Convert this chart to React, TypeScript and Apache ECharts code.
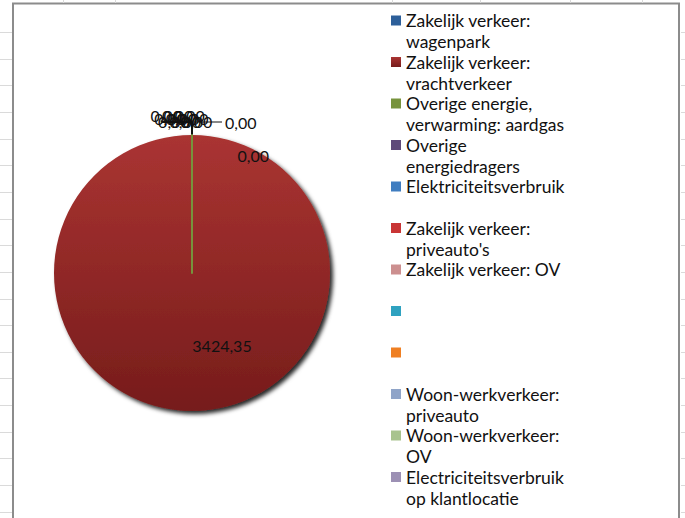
import React, { useEffect, useRef } from "react";
import * as echarts from "echarts";

const categories = [
  "Zakelijk verkeer: wagenpark",
  "Zakelijk verkeer: vrachtverkeer",
  "Overige energie, verwarming: aardgas",
  "Overige energiedragers",
  "Elektriciteitsverbruik",
  "Zakelijk verkeer: priveauto's",
  "Zakelijk verkeer: OV",
  "(leeg 1)",
  "(leeg 2)",
  "Woon-werkverkeer: priveauto",
  "Woon-werkverkeer: OV",
  "Electriciteitsverbruik op klantlocatie",
];

const legendText = [
  "Zakelijk verkeer:\nwagenpark",
  "Zakelijk verkeer:\nvrachtverkeer",
  "Overige energie,\nverwarming: aardgas",
  "Overige\nenergiedragers",
  "Elektriciteitsverbruik\n ",
  "Zakelijk verkeer:\npriveauto's",
  "Zakelijk verkeer: OV\n ",
  " \n ",
  " \n ",
  "Woon-werkverkeer:\npriveauto",
  "Woon-werkverkeer:\nOV",
  "Electriciteitsverbruik\nop klantlocatie",
];

// every value other than the freight slice is labelled 0,00 in the reference
const values = [0.004, 3424.35, 0.002, 0.001, 0.001, 0.001, 0.001, 0.001, 0.001, 0.001, 0.001, 0.001];

const colors = [
  "#2D5F9A",
  "#A0302D",
  "#77933C",
  "#5F4A7A",
  "#3F7DC0",
  "#C93535",
  "#CC8F8F",
  "#2FA2C0",
  "#EF7F22",
  "#8FA4C8",
  "#A8C38E",
  "#9C90B4",
];

const sheetColumnsX = [63, 115, 392, 480, 570, 642];

export default function App() {
  const ref = useRef<HTMLDivElement>(null);

  useEffect(() => {
    const chart = echarts.init(ref.current!, null, { renderer: "svg" });
    const fmt = (v: number) => v.toFixed(2).replace(".", ",");

    const data = categories.map((name, i) => {
      const item: any = {
        name,
        value: values[i],
        itemStyle: { color: colors[i] },
      };
      if (i === 1) {
        item.itemStyle = {
          color: new echarts.graphic.LinearGradient(0, 0, 0, 1, [
            { offset: 0, color: "#AA3432" },
            { offset: 1, color: "#761C1B" },
          ]),
          shadowBlur: 4,
          shadowOffsetX: 3,
          shadowOffsetY: 3,
          shadowColor: "rgba(0,0,0,0.85)",
        };
        item.label = { position: "inside", padding: [8, 0, 0, 60] };
      }
      if (i === 2) {
        item.itemStyle.borderColor = "#77933C";
        item.itemStyle.borderWidth = 2;
      }
      return item;
    });

    const nameToText: Record<string, string> = {};
    categories.forEach((c, i) => (nameToText[c] = " \n" + legendText[i]));

    const deco: any[] = [];
    for (let i = 0; i < 19; i++) {
      const y = Math.round(32 + 26.65 * i) + 0.5;
      deco.push({
        type: "line",
        shape: { x1: 0, y1: y, x2: 12, y2: y },
        style: { stroke: "#dadada", lineWidth: 1 },
        silent: true,
      });
      deco.push({
        type: "line",
        shape: { x1: 681, y1: y, x2: 685, y2: y },
        style: { stroke: "#dadada", lineWidth: 1 },
        silent: true,
      });
    }
    sheetColumnsX.forEach((x) => {
      deco.push({
        type: "line",
        shape: { x1: x + 0.5, y1: 0, x2: x + 0.5, y2: 3 },
        style: { stroke: "#dadada", lineWidth: 1 },
        silent: true,
      });
    });
    deco.push({
      type: "rect",
      shape: { x: 13, y: 3.5, width: 666, height: 530 },
      style: { fill: "#ffffff", stroke: "#8c8c8c", lineWidth: 2 },
      silent: true,
      z: -10,
    });

    chart.setOption({
      animation: false,
      backgroundColor: "#ffffff",
      graphic: deco,
      legend: {
        orient: "vertical",
        left: 391,
        top: -11,
        height: 600,
        padding: 0,
        itemGap: -21.5,
        itemWidth: 10,
        itemHeight: 10,
        icon: "rect",
        selectedMode: false,
        data: categories,
        formatter: (name: string) => nameToText[name],
        itemStyle: { borderWidth: 0 },
        textStyle: {
          fontFamily: "Lato",
          fontSize: 17.5,
          lineHeight: 21,
          color: "#111111",
        },
      },
      series: [
        {
          type: "pie",
          center: [192, 273],
          radius: [0, 138],
          startAngle: 90,
          clockwise: true,
          avoidLabelOverlap: false,
          selectedMode: false,
          silent: true,
          minShowLabelAngle: 0,
          itemStyle: { borderWidth: 0 },
          label: {
            show: true,
            position: "outside",
            formatter: (p: any) => fmt(p.value),
            fontFamily: "Lato",
            fontSize: 16,
            color: "#111111",
            distanceToLabelLine: 3,
          },
          labelLine: {
            show: true,
            length: 13,
            length2: 30,
            lineStyle: { color: "#111111", width: 1 },
          },
          // overlapping small labels, staggered as in the original;
          // the aardgas label sits inside the pie like Excel's best-fit placement
          labelLayout: (p: any) => {
            if (p.dataIndex === 2) return { dx: 110, dy: 33 };
            if (p.dataIndex > 2)
              return { dx: (p.dataIndex - 3) * 3.8 + 23, dy: -4 + ((p.dataIndex % 3) - 1) * 3 };
            return {};
          },
          data,
        },
      ],
    });

    return () => chart.dispose();
  }, []);

  return (
    <div
      ref={ref}
      style={{ position: "absolute", left: 0, top: 0, width: 685, height: 518 }}
    />
  );
}
